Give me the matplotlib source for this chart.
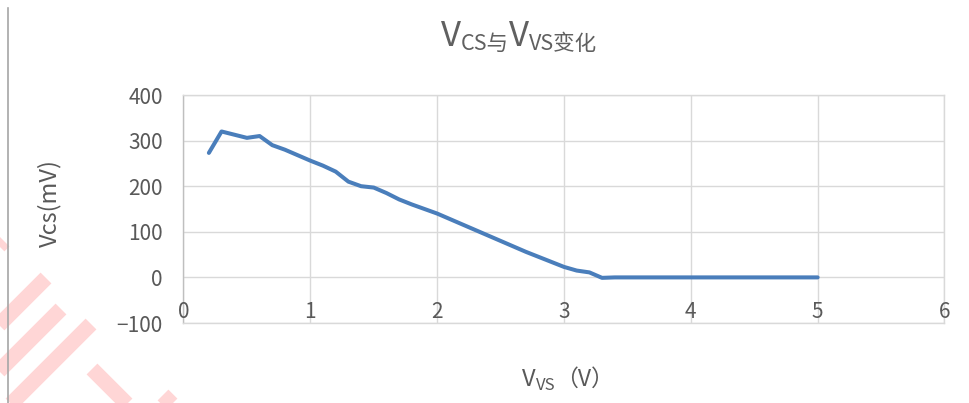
import matplotlib
matplotlib.use("Agg")
import matplotlib.pyplot as plt
from matplotlib.lines import Line2D
from matplotlib.transforms import IdentityTransform, blended_transform_factory

plt.rcParams['font.family'] = ['Noto Sans CJK SC', 'DejaVu Sans']

# ---- data ----
vvs = [0.2, 0.3, 0.4, 0.5, 0.6, 0.7, 0.8, 0.9, 1.0, 1.1, 1.2, 1.3, 1.4, 1.5, 1.6,
       1.7, 1.8, 1.9, 2.0, 2.1, 2.2, 2.3, 2.4, 2.5, 2.6, 2.7, 2.8, 2.9, 3.0, 3.1,
       3.2, 3.3, 3.4, 3.5, 4.0, 4.5, 5.0]
vcs = [273, 320, 313, 306, 310, 290, 280, 268, 256, 245, 232, 210, 200, 197, 185,
       171, 160, 150, 140, 128, 116, 104, 92, 80, 68, 56, 45, 34, 23, 15,
       11, -1, 0, 0, 0, 0, 0]
x_ticks = [0, 1, 2, 3, 4, 5, 6]
y_ticks = [-100, 0, 100, 200, 300, 400]

W, H = 970, 403
fig = plt.figure(figsize=(W / 100, H / 100), dpi=100)
fig.patch.set_facecolor('white')

# watermark stripes (decoration, in pixel coords from top)
stripe_col = '#FFD6D6'
def stripe(x0, y0, x1, y1):
    fig.add_artist(Line2D([x0 / W, x1 / W], [1 - y0 / H, 1 - y1 / H],
                          transform=fig.transFigure, color=stripe_col,
                          lw=11, solid_capstyle='butt', zorder=0))
stripe(4, 241, -60, 305)
stripe(46, 278, -100, 424)
stripe(61, 309, -60, 430)
stripe(91, 324, -30, 445)
stripe(92, 369, 140, 417)
stripe(163, 395, 190, 422)

# left border line
fig.add_artist(Line2D([8.5 / W, 8.5 / W], [0, 1 - 8 / H], transform=fig.transFigure,
                      color='#A6A6A6', lw=1.2, zorder=1))

L, R, T, B = 183.5, 944.5, 95, 323
ax = fig.add_axes([L / W, 1 - B / H, (R - L) / W, (B - T) / H])
ax.set_facecolor('none')
ax.plot(vvs, vcs, color='#4A7EBB', lw=2.9, solid_joinstyle='round',
        solid_capstyle='round', zorder=3)
ax.set_xlim(0, 6)
ax.set_ylim(-100, 400)
ax.set_xticks(x_ticks)
ax.set_yticks(y_ticks)
ax.grid(True, color='#D9D9D9', lw=1)
for s in ax.spines.values():
    s.set_color('#D9D9D9')
    s.set_linewidth(1)
ax.spines['left'].set_color('#BFBFBF')
ax.tick_params(length=0)
ax.tick_params(axis='y', pad=15, labelsize=15, labelcolor='#595959')
ax.set_xticklabels([])
tr = blended_transform_factory(ax.transData, ax.transAxes)
for xv in x_ticks:
    ax.text(xv, 0.047, str(xv), transform=tr, ha='center', va='center',
            fontsize=15, color='#595959')

# y label
fig.text(50 / W, 1 - 203 / H, 'Vcs(mV)', rotation=90, ha='center', va='center',
         fontsize=17, color='#595959')

# chained rich texts (dy > 0 lowers the piece)
renderer = fig.canvas.get_renderer()
def chain(pieces, left_px, baseline_top_px, color='#595959'):
    x = left_px
    for txt, size, dy in pieces:
        t = fig.text(0, 0, txt, fontsize=size, color=color, va='baseline',
                     ha='left', transform=IdentityTransform())
        t.set_position((x, H - baseline_top_px - dy))
        w = t.get_window_extent(renderer).width
        x += w

chain([('V', 25, 0), ('CS与', 15.5, 4), ('V', 25, 0), ('VS变化', 15.5, 4)], 441, 46,
      color='#606060')
chain([('V', 17, 0), ('VS', 12, 4), ('（V）', 16.5, 0)], 522, 386)

fig.savefig('out.png', dpi=100, facecolor='white')
